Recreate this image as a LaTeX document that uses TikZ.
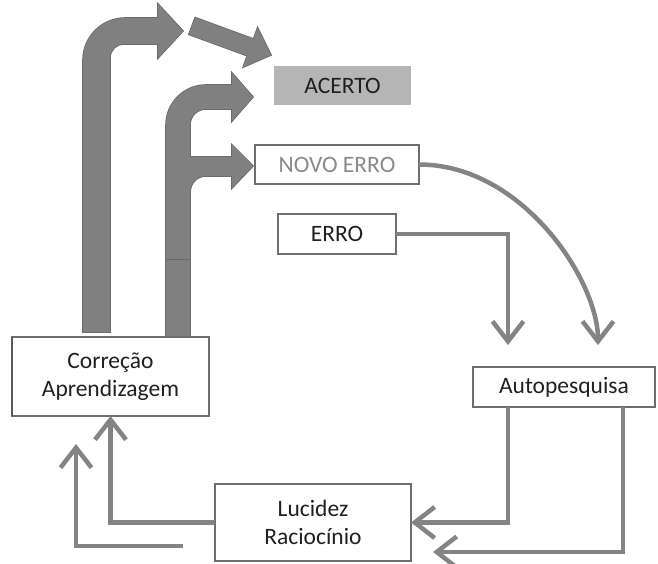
\documentclass[tikz,border=0pt]{standalone}
\usepackage{fontspec}
\setmainfont{Carlito}
\usetikzlibrary{arrows.meta}
\definecolor{arrfill}{HTML}{808080}
\definecolor{arrline}{HTML}{6A6A6A}
\definecolor{conncol}{HTML}{848484}
\definecolor{bordcol}{HTML}{6E6E6E}
\definecolor{txtcol}{HTML}{202020}
\definecolor{acertofill}{HTML}{B5B5B5}
\definecolor{novotxt}{HTML}{8A8A8A}
\begin{document}
\begin{tikzpicture}[x=1pt,y=-1pt,
  box/.style={draw=bordcol, line width=1.3pt, fill=white, text=txtcol, align=center,
    inner sep=0pt, outer sep=0pt, font=\fontsize{23.5}{28}\selectfont},
  connector/.style={draw=conncol, line width=4.5pt, -{Straight Barb[length=20pt,width=31pt]}},
  blkline/.style={draw=arrline, line width=1.6pt},
  blkfill/.style={fill=arrfill}]
\useasboundingbox (0,0) rectangle (658,564);

% ---- block arrows: outlines first, then fills on top (merges overlaps)
\path[save path=\pLeft] (83,332) -- (83,60) .. controls (83,37) and (102,18) .. (125,18)
  -- (158,18) -- (158,4) -- (183,31) -- (158,58) -- (158,44) -- (124,44)
  .. controls (116,44) and (110,50) .. (110,58) -- (110,332) -- cycle;
\path[save path=\pDiag] (195.1,17.6) -- (253.5,39.0) -- (257.6,27.7) -- (271,55)
  -- (243.2,67.1) -- (247.3,55.8) -- (188.9,34.4) -- cycle;
\path[save path=\pMid] (166,337) -- (166,125) .. controls (166,103) and (184,85) .. (206,85)
  -- (232,85) -- (232,73) -- (253,97) -- (232,121) -- (232,109) -- (206,109)
  .. controls (197,109) and (190,116) .. (190,125) -- (190,337) -- cycle;
\path[save path=\pBranch] (180,157) -- (232,157) -- (232,145) -- (253,166) -- (232,188)
  -- (232,176) -- (206,176) .. controls (197,176) and (190,183) .. (190,193) -- (180,193) -- cycle;

\draw[blkline, use path=\pLeft];
\draw[blkline, use path=\pDiag];
\draw[blkline, use path=\pMid];
\draw[blkline, use path=\pBranch];
\fill[blkfill, use path=\pLeft];
\fill[blkfill, use path=\pDiag];
\fill[blkfill, use path=\pMid];
\fill[blkfill, use path=\pBranch];
\draw[arrline, line width=1pt] (166,259) -- (190,259);

% ---- boxes
\node[box, minimum width=197pt, minimum height=79pt] (corr) at (110.5,376.5) {Correção\\Aprendizagem};
\draw[draw=black!65, line width=2.6pt] (corr.north west) -- (corr.south west);
\node[box, minimum width=196pt, minimum height=77pt] (luc) at (313,522.5) {Lucidez\\Raciocínio};
\node[box, minimum width=182pt, minimum height=40pt] (auto) at (564,387) {Autopesquisa};
\node[box, minimum width=118pt, minimum height=40pt] (erro) at (337,234) {ERRO};
\node[box, minimum width=164pt, minimum height=39pt, text=novotxt] (novo) at (337,164.5) {NOVO ERRO};
\node[box, draw=none, fill=acertofill, minimum width=137pt, minimum height=39pt] (acerto) at (342.5,85.5) {ACERTO};

% ---- free connector ends
\coordinate (e1) at (508,345);
\coordinate (n1) at (598,345);
\coordinate (c4) at (623,552);
\coordinate (c5) at (433,552);
\coordinate (f1) at (183,546);
\coordinate (f2) at (76,444);

% ---- connectors
\draw[connector] (erro.east) -| (e1);
\draw[connector] (novo.east) .. controls (522,164.5) and (598,280) .. (n1);
\draw[connector] (auto.south -| e1) |- (luc.east);
\draw[connector] (auto.south -| c4) |- (c5);
\draw[connector] (luc.west) -| (corr.south);
\draw[connector] (f1) -| (f2);
\end{tikzpicture}
\end{document}
